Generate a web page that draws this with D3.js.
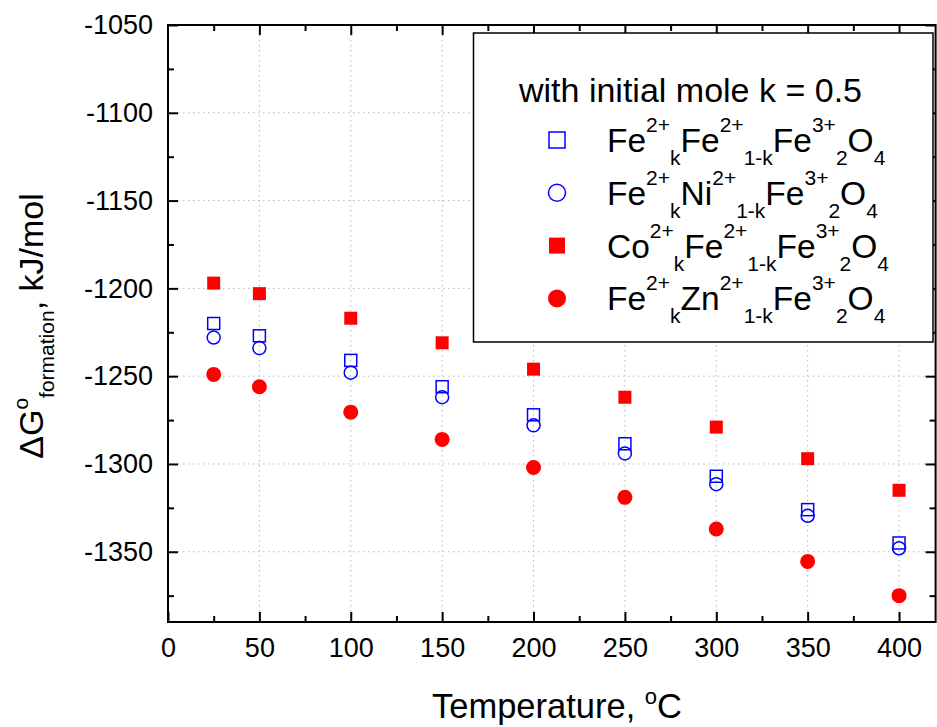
<!DOCTYPE html>
<html>
<head>
<meta charset="utf-8">
<script src="https://cdn.jsdelivr.net/npm/d3@7"></script>
<style>
  body { margin: 0; background: #fff; }
  svg { font-family: "Liberation Sans", Arial, sans-serif; }
</style>
</head>
<body>
<svg id="chart" width="937" height="727"></svg>
<script>
// Temperatures (°C)
var temps = [25, 50, 100, 150, 200, 250, 300, 350, 400];

// Gibbs energy of formation, kJ/mol
var feFe = [-1220, -1227, -1241, -1256, -1272, -1288.5, -1307, -1326, -1345];
var feNi = [-1228, -1234, -1248, -1262, -1278, -1294, -1311.5, -1329.5, -1348];
var coFe = [-1197, -1203, -1217, -1231, -1246, -1262, -1279, -1297, -1315];
var feZn = [-1249, -1256, -1270.5, -1286, -1302, -1319, -1337, -1355.5, -1375];

var xTicks = [0, 50, 100, 150, 200, 250, 300, 350, 400];
var yTicks = [-1050, -1100, -1150, -1200, -1250, -1300, -1350];

// legend labels: [text, kind] where kind is '', 'sup' or 'sub'
var legendTitle = "with initial mole k = 0.5";
var series = [
    { name: "FeFe", values: feFe, shape: "square", fill: false, color: "#0000ff",
      label: [["Fe", ""], ["2+", "sup"], ["k", "sub"], ["Fe", ""], ["2+", "sup"], ["1-k", "sub"], ["Fe", ""], ["3+", "sup"], ["2", "sub"], ["O", ""], ["4", "sub"]] },
    { name: "FeNi", values: feNi, shape: "circle", fill: false, color: "#0000ff",
      label: [["Fe", ""], ["2+", "sup"], ["k", "sub"], ["Ni", ""], ["2+", "sup"], ["1-k", "sub"], ["Fe", ""], ["3+", "sup"], ["2", "sub"], ["O", ""], ["4", "sub"]] },
    { name: "CoFe", values: coFe, shape: "square", fill: true, color: "#ff0000",
      label: [["Co", ""], ["2+", "sup"], ["k", "sub"], ["Fe", ""], ["2+", "sup"], ["1-k", "sub"], ["Fe", ""], ["3+", "sup"], ["2", "sub"], ["O", ""], ["4", "sub"]] },
    { name: "FeZn", values: feZn, shape: "circle", fill: true, color: "#ff0000",
      label: [["Fe", ""], ["2+", "sup"], ["k", "sub"], ["Zn", ""], ["2+", "sup"], ["1-k", "sub"], ["Fe", ""], ["3+", "sup"], ["2", "sub"], ["O", ""], ["4", "sub"]] }
];

var svg = d3.select("#chart");

// plot box (note: "top" is reserved on window, so prefix these)
var plotLeft = 168, plotRight = 935.6, plotTop = 25, plotBottom = 622;
var x = d3.scaleLinear().domain([0, 420]).range([plotLeft, plotRight]);
var y = d3.scaleLinear().domain([-1050, -1390]).range([plotTop, plotBottom]);

var xMinor = d3.range(25, 420, 50);
var yMinor = d3.range(-1075, -1390, -50);

// plain hyphen-minus, no thousands separator
var plain = function(d) { return String(d); };

// dotted grid at major ticks
var grid = svg.append("g")
    .attr("stroke", "#b8b8b8")
    .attr("stroke-width", 1)
    .attr("stroke-dasharray", "1.5,3.5");
grid.selectAll(".gx").data(xTicks.filter(function(d) { return d > 0; }))
    .enter().append("line")
    .attr("x1", function(d) { return x(d); }).attr("x2", function(d) { return x(d); })
    .attr("y1", plotTop).attr("y2", plotBottom);
grid.selectAll(".gy").data(yTicks.filter(function(d) { return d < -1050; }))
    .enter().append("line")
    .attr("x1", plotLeft).attr("x2", plotRight)
    .attr("y1", function(d) { return y(d); }).attr("y2", function(d) { return y(d); });

// axes - ticks point inwards
function styleAxis(g) {
    g.select(".domain").remove();
    g.selectAll(".tick line").attr("stroke", "#000").attr("stroke-width", 2);
    g.selectAll(".tick text").attr("fill", "#000").attr("font-size", 27);
}

svg.append("g").attr("transform", "translate(0," + plotBottom + ")")
    .call(d3.axisBottom(x).tickValues(xTicks).tickFormat(plain).tickSizeInner(-10).tickSizeOuter(0).tickPadding(16))
    .call(styleAxis);
svg.append("g").attr("transform", "translate(0," + plotBottom + ")")
    .call(d3.axisBottom(x).tickValues(xMinor).tickSizeInner(-6).tickSizeOuter(0).tickFormat(""))
    .call(styleAxis);
svg.append("g").attr("transform", "translate(0," + plotTop + ")")
    .call(d3.axisTop(x).tickValues(xTicks.filter(function(d) { return d > 0; })).tickSizeInner(-10).tickSizeOuter(0).tickFormat(""))
    .call(styleAxis);
svg.append("g").attr("transform", "translate(0," + plotTop + ")")
    .call(d3.axisTop(x).tickValues(xMinor).tickSizeInner(-6).tickSizeOuter(0).tickFormat(""))
    .call(styleAxis);

svg.append("g").attr("transform", "translate(" + plotLeft + ",0)")
    .call(d3.axisLeft(y).tickValues(yTicks).tickFormat(plain).tickSizeInner(-10).tickSizeOuter(0).tickPadding(15))
    .call(styleAxis);
svg.append("g").attr("transform", "translate(" + plotLeft + ",0)")
    .call(d3.axisLeft(y).tickValues(yMinor).tickSizeInner(-6).tickSizeOuter(0).tickFormat(""))
    .call(styleAxis);
svg.append("g").attr("transform", "translate(" + plotRight + ",0)")
    .call(d3.axisRight(y).tickValues(yTicks).tickSizeInner(-10).tickSizeOuter(0).tickFormat(""))
    .call(styleAxis);
svg.append("g").attr("transform", "translate(" + plotRight + ",0)")
    .call(d3.axisRight(y).tickValues(yMinor).tickSizeInner(-6).tickSizeOuter(0).tickFormat(""))
    .call(styleAxis);

// frame
svg.append("rect")
    .attr("x", plotLeft).attr("y", plotTop)
    .attr("width", plotRight - plotLeft).attr("height", plotBottom - plotTop)
    .attr("fill", "none").attr("stroke", "#000").attr("stroke-width", 2);

// markers
function drawMarker(g, s, size) {
    if (s.shape === "square") {
        g.append("rect")
            .attr("x", -size / 2).attr("y", -size / 2)
            .attr("width", size).attr("height", size)
            .attr("fill", s.fill ? s.color : "none")
            .attr("stroke", s.fill ? "none" : s.color)
            .attr("stroke-width", 1.5);
    } else {
        g.append("circle")
            .attr("r", s.fill ? size / 2 + 1 : size / 2 + 0.5)
            .attr("fill", s.fill ? s.color : "none")
            .attr("stroke", s.fill ? "none" : s.color)
            .attr("stroke-width", 1.5);
    }
}

series.forEach(function(s) {
    var g = svg.append("g");
    s.values.forEach(function(v, i) {
        var m = g.append("g").attr("transform", "translate(" + x(temps[i]) + "," + y(v) + ")");
        drawMarker(m, s, s.fill ? 13 : 12);
    });
});

// rich text helper (superscripts / subscripts)
function richText(t, parts, bigSize, smallSize, supShift, subShift) {
    var offset = 0;
    parts.forEach(function(p) {
        var target = 0;
        if (p[1] === "sup") target = -supShift;
        if (p[1] === "sub") target = subShift;
        t.append("tspan")
            .attr("dy", target - offset)
            .attr("font-size", p[1] === "" ? bigSize : smallSize)
            .text(p[0]);
        offset = target;
    });
}

// legend
var legend = svg.append("g");
legend.append("rect")
    .attr("x", 473.5).attr("y", 33)
    .attr("width", 459.5).attr("height", 309)
    .attr("fill", "#fff").attr("stroke", "#000").attr("stroke-width", 1.5);
legend.append("text")
    .attr("x", 519).attr("y", 102)
    .attr("font-size", 34).attr("fill", "#000")
    .text(legendTitle);
series.forEach(function(s, i) {
    var cy = 140 + i * 52.8;
    var m = legend.append("g").attr("transform", "translate(557," + cy + ")");
    drawMarker(m, s, 16);
    var t = legend.append("text")
        .attr("x", 607).attr("y", cy + 12)
        .attr("fill", "#000");
    richText(t, s.label, 33.5, 21, 20, 13);
});

// axis titles
var xt = svg.append("text")
    .attr("x", 557).attr("y", 718)
    .attr("text-anchor", "middle").attr("fill", "#000");
richText(xt, [["Temperature, ", ""], ["o", "sup"], ["C", ""]], 34.5, 22, 14, 0);

var yt = svg.append("text")
    .attr("transform", "translate(43,326) rotate(-90)")
    .attr("text-anchor", "middle").attr("fill", "#000");
richText(yt, [["\u0394G", ""], ["o", "sup"], ["formation", "sub"], [", kJ/mol", ""]], 34, 21, 15, 11);
</script>
</body>
</html>
